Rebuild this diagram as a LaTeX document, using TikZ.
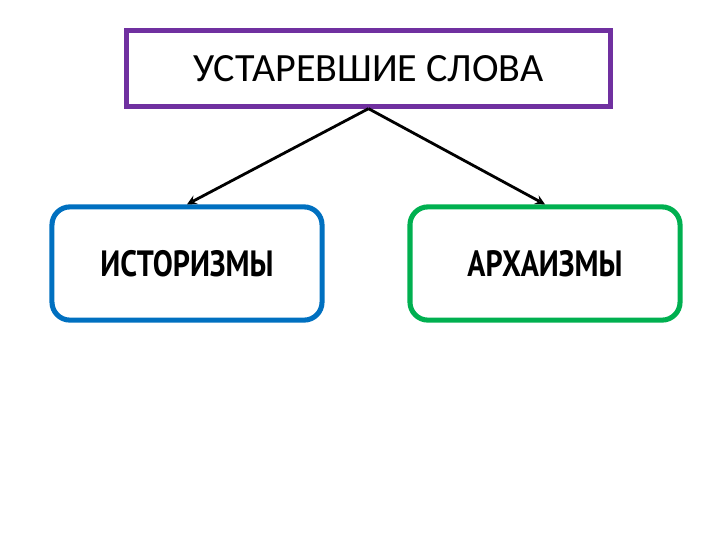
\documentclass[tikz,border=0pt]{standalone}
\usepackage{fontspec}
\setmainfont{Carlito}
\newfontfamily\kindfont{PT Sans}
\usepackage{tikz}
\definecolor{violetline}{RGB}{112,48,160}
\definecolor{blueline}{RGB}{0,112,192}
\definecolor{greenline}{RGB}{0,176,80}
\tikzstyle{head}=[shape=rectangle,draw=violetline,line width=3.6pt,minimum width=12.08cm,minimum height=1.88cm,font=\fontsize{28.5}{32}\selectfont]
\tikzstyle{kind}=[shape=rectangle,rounded corners=0.45cm,line width=3.6pt,minimum width=6.75cm,minimum height=2.83cm,font=\kindfont\bfseries\fontsize{26}{30}\selectfont]
\tikzstyle{to}=[->,>=stealth,line width=2pt]

\begin{document}
\begin{tikzpicture}[x=0.025cm,y=-0.025cm]
        \useasboundingbox (0,0) rectangle (720,540);
        \node[head] (S) at (368.5, 68.5) {УСТАРЕВШИЕ СЛОВА};
        \node[kind, draw=blueline] (I) at (187, 263.5) {\scalebox{0.82}[1]{ИСТОРИЗМЫ}};
        \node[kind, draw=greenline] (A) at (545, 263.5) {\scalebox{0.82}[1]{АРХАИЗМЫ}};
        \draw (S.south) edge[to] (I.north)
                        edge[to] (A.north);
    \end{tikzpicture}
\end{document}
